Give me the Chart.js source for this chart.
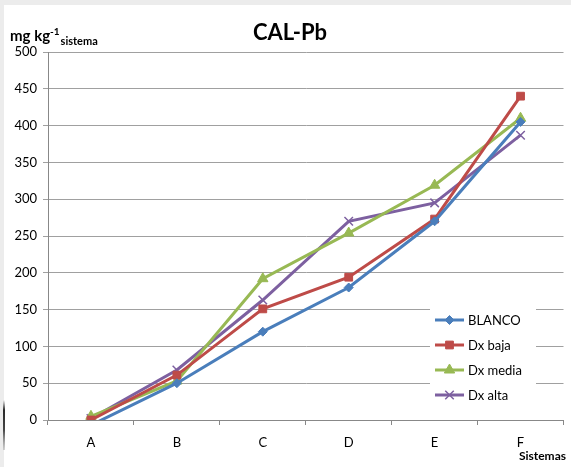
<!DOCTYPE html>
<html>
<head>
<meta charset="utf-8">
<script src="https://cdn.jsdelivr.net/npm/chart.js@4/dist/chart.umd.min.js"></script>
<style>
  html, body { margin: 0; padding: 0; background: #fff; }
  #wrap { width: 571px; height: 467px; position: relative; }
</style>
</head>
<body>
<div id="wrap"><canvas id="chart" width="571" height="467"></canvas></div>
<script>
// data
const sistemas = ['A', 'B', 'C', 'D', 'E', 'F'];
const blanco = [-7, 50, 120, 180, 270, 405];
const dxBaja = [0, 61, 151, 194, 273, 440];
const dxMedia = [5, 53, 192, 254, 319, 410];
const dxAlta = [2, 68, 163, 270, 295, 387];
const yTicks = [0, 50, 100, 150, 200, 250, 300, 350, 400, 450, 500];

const FONT = 'Lato, "Liberation Sans", sans-serif';

function serie(label, data, color, style, radius) {
    return {
        label: label,
        data: data,
        borderColor: color,
        backgroundColor: color,
        borderWidth: 3,
        pointStyle: style,
        pointRadius: radius,
        pointHoverRadius: radius,
        pointBorderWidth: style === 'crossRot' ? 1.5 : 1,
        tension: 0,
        clip: 0
    };
}

const dataSets = [
    serie('BLANCO', blanco, '#4A7EBB', 'rectRot', 4.5),
    serie('Dx baja', dxBaja, '#BE4B48', 'rect', 5.5),
    serie('Dx media', dxMedia, '#98B954', 'triangle', 6),
    serie('Dx alta', dxAlta, '#7D60A0', 'crossRot', 6)
];

// texts and in-plot legend drawn by hand
const decor = {
    id: 'decor',
    beforeDraw(chart) {
        const c = chart.ctx;
        c.save();
        c.fillStyle = '#ececec';
        c.fillRect(0, 0, 571, 5);
        c.fillRect(0, 0, 4, 467);
        // dark scan streak on the left edge
        const g = c.createLinearGradient(0, 400, 0, 450);
        g.addColorStop(0, 'rgba(60,60,60,0)');
        g.addColorStop(0.2, 'rgba(40,40,40,1)');
        g.addColorStop(0.6, 'rgba(70,70,70,1)');
        g.addColorStop(1, 'rgba(150,150,150,0.4)');
        c.fillStyle = g;
        c.fillRect(3, 400, 2, 50);
        c.restore();
    },
    afterDatasetsDraw(chart) {
        const c = chart.ctx;
        c.save();
        // legend box
        c.fillStyle = '#fff';
        c.fillRect(430, 303, 106, 104);
        dataSets.forEach((ds, i) => {
            const y = 320 + i * 25;
            c.strokeStyle = ds.borderColor;
            c.lineWidth = 3;
            c.beginPath();
            c.moveTo(435, y);
            c.lineTo(464, y);
            c.stroke();
            c.fillStyle = ds.borderColor;
            c.strokeStyle = ds.borderColor;
            c.lineWidth = ds.pointBorderWidth;
            Chart.helpers.drawPoint(c, {pointStyle: ds.pointStyle, radius: ds.pointRadius, borderWidth: ds.pointBorderWidth}, 449.5, y);
            c.fillStyle = '#000';
            c.font = '13px ' + FONT;
            c.textBaseline = 'middle';
            c.textAlign = 'left';
            c.fillText(ds.label, 468, y + 1);
        });
        // title
        c.fillStyle = '#000';
        c.textAlign = 'center';
        c.textBaseline = 'middle';
        c.font = 'bold 22px ' + FONT;
        c.fillText('CAL-Pb', 290, 33);
        // y axis title
        c.textAlign = 'left';
        c.textBaseline = 'alphabetic';
        c.font = 'bold 15px ' + FONT;
        c.fillText('mg kg', 10, 41);
        let x = 10 + c.measureText('mg kg').width;
        c.font = 'bold 10px ' + FONT;
        c.fillText('-1', x, 35);
        x += c.measureText('-1').width + 1;
        c.font = 'bold 11px ' + FONT;
        c.fillText('sistema', x, 45);
        // x axis title
        c.textAlign = 'right';
        c.font = 'bold 12px ' + FONT;
        c.fillText('Sistemas', 566, 460);
        c.restore();
    }
};

new Chart(document.getElementById('chart'), {
    type: 'line',
    data: { labels: sistemas, datasets: dataSets },
    plugins: [decor],
    options: {
        responsive: false,
        animation: false,
        devicePixelRatio: 1,
        layout: { padding: { left: 0, top: 52, right: 7, bottom: 0 } },
        plugins: { legend: { display: false }, title: { display: false }, tooltip: { enabled: false } },
        scales: {
            x: {
                offset: true,
                afterFit(s) { s.height = 47; },
                grid: { offset: true, drawOnChartArea: false, color: '#888', tickLength: 5 },
                border: { color: '#888' },
                ticks: { color: '#000', font: { family: FONT, size: 13 }, padding: 10 }
            },
            y: {
                min: 0,
                max: 500,
                afterFit(s) { s.width = 48; },
                afterBuildTicks(s) { s.ticks = yTicks.map(v => ({ value: v })); },
                grid: { color: '#a0a0a0', tickLength: 5 },
                border: { color: '#888' },
                ticks: { color: '#000', font: { family: FONT, size: 13 }, padding: 6 }
            }
        }
    }
});
</script>
</body>
</html>
